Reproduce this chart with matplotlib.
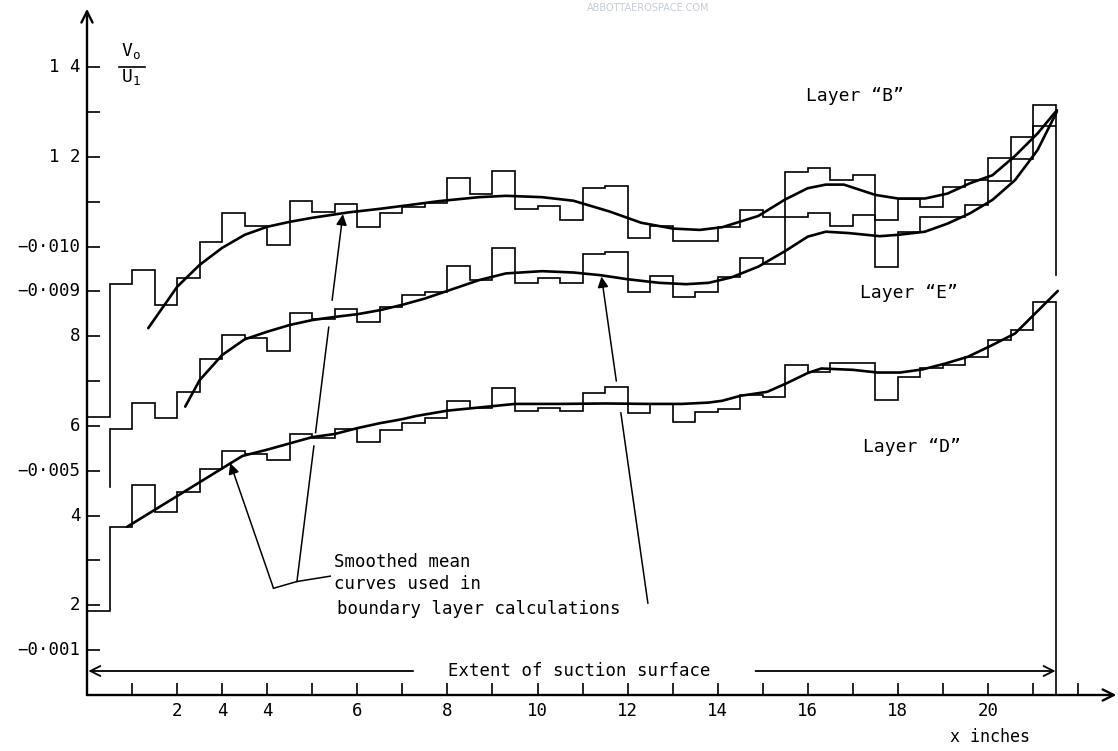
import numpy as np
import matplotlib
matplotlib.use("Agg")
import matplotlib.pyplot as plt

plt.rcParams['font.family'] = ['DejaVu Sans Mono', 'DejaVu Sans']

# step edges every half inch
B_EDGES = np.arange(0.0, 21.51, 0.5)
E_EDGES = np.arange(0.5, 21.51, 0.5)
D_EDGES = np.arange(0.0, 21.51, 0.5)

# measured (stepped) values
b_vals = [6.20, 9.16, 9.48, 8.70, 9.29, 10.09, 10.75, 10.46, 10.03, 11.02, 10.76,
          10.94, 10.44, 10.74, 10.89, 10.98, 11.52, 11.17, 11.69, 10.83, 10.91, 10.59,
          11.31, 11.36, 10.20, 10.46, 10.13, 10.13, 10.43, 10.81, 10.66, 11.67, 11.74,
          11.48, 11.59, 10.60, 11.05, 10.87, 11.32, 11.48, 11.98, 12.45, 13.15]
e_vals = [5.93, 6.52, 6.17, 6.75, 7.49, 8.03, 7.95, 7.67, 8.51, 8.38, 8.60, 8.31,
          8.64, 8.92, 8.99, 9.57, 9.25, 9.96, 9.19, 9.29, 9.18, 9.83, 9.88, 8.99,
          9.34, 8.88, 8.99, 9.33, 9.75, 9.62, 10.66, 10.74, 10.46, 10.70, 9.55, 10.33,
          10.66, 10.66, 10.93, 11.45, 11.96, 12.69]
d_vals = [1.87, 3.75, 4.68, 4.07, 4.52, 5.03, 5.44, 5.37, 5.24, 5.83, 5.74, 5.92,
          5.65, 5.91, 6.07, 6.17, 6.56, 6.39, 6.84, 6.34, 6.41, 6.34, 6.74, 6.86,
          6.28, 6.49, 6.09, 6.30, 6.38, 6.69, 6.64, 7.35, 7.21, 7.41, 7.41, 6.58,
          7.08, 7.30, 7.36, 7.54, 7.92, 8.14, 8.77]

# smoothed mean curves
b_curve_x = [1.36, 2.0, 2.5, 3.0, 3.5, 4.0, 4.5, 5.0, 5.8, 6.5, 7.2, 7.8, 8.7, 9.3,
             10.1, 10.8, 11.6, 12.3, 13.0, 13.6, 14.1, 14.9, 15.5, 16.0, 16.4, 16.8,
             17.5, 18.0, 18.6, 19.1, 19.6, 20.1, 20.6, 21.1, 21.53]
b_curve_y = [8.18, 9.10, 9.59, 9.97, 10.26, 10.44, 10.55, 10.64, 10.76, 10.84, 10.93,
             11.01, 11.10, 11.13, 11.10, 11.02, 10.78, 10.53, 10.40, 10.37, 10.43,
             10.68, 11.05, 11.30, 11.38, 11.38, 11.15, 11.07, 11.07, 11.18, 11.41,
             11.59, 12.02, 12.52, 13.04]
e_curve_x = [2.18, 2.5, 3.0, 3.5, 4.0, 4.5, 5.0, 5.5, 6.0, 6.5, 7.0, 7.5, 8.0, 8.7,
             9.3, 10.1, 10.8, 11.4, 12.0, 12.7, 13.3, 13.8, 14.3, 14.9, 15.5, 16.0,
             16.4, 16.9, 17.6, 18.0, 18.6, 19.1, 19.6, 20.1, 20.6, 21.1, 21.53]
e_curve_y = [6.43, 7.02, 7.58, 7.93, 8.10, 8.25, 8.36, 8.43, 8.49, 8.58, 8.70, 8.84,
             9.01, 9.25, 9.40, 9.45, 9.42, 9.36, 9.27, 9.19, 9.16, 9.19, 9.31, 9.55,
             9.90, 10.22, 10.33, 10.30, 10.23, 10.26, 10.33, 10.51, 10.74, 11.04,
             11.48, 12.15, 13.01]
d_curve_x = [0.89, 3.45, 4.0, 4.5, 5.0, 5.5, 6.0, 6.5, 7.0, 7.3, 8.0, 9.0, 9.5, 10.5,
             11.5, 12.5, 13.2, 13.8, 14.1, 14.5, 15.1, 15.55, 16.0, 16.3, 17.0, 17.55,
             18.05, 18.55, 19.05, 19.55, 20.05, 20.6, 21.05, 21.55]
d_curve_y = [3.75, 5.33, 5.47, 5.61, 5.75, 5.82, 5.95, 6.06, 6.15, 6.22, 6.34, 6.44,
             6.49, 6.49, 6.50, 6.49, 6.49, 6.52, 6.56, 6.67, 6.76, 6.96, 7.18, 7.28,
             7.25, 7.19, 7.19, 7.26, 7.39, 7.54, 7.78, 8.06, 8.51, 9.01]

x_ticks = list(range(1, 23))
x_label_pos = [2, 3, 4, 6, 8, 10, 12, 14, 16, 18, 20]
x_label_txt = ["2", "4", "4", "6", "8", "10", "12", "14", "16", "18", "20"]
y_ticks = list(range(1, 15))
y_label_pos = [1, 2, 4, 5, 6, 8, 9, 10, 12, 14]
y_label_txt = ["\u22120\u00b7001", "2", "4", "\u22120\u00b7005", "6", "8",
               "\u22120\u00b7009", "\u22120\u00b7010", "1 2", "1 4"]

W, H = 1118, 751
fig = plt.figure(figsize=(W / 100, H / 100), dpi=100)
ax = fig.add_axes([87 / W, 56 / H, 1031 / W, 695 / H])
ax.set_xlim(0, 1031 / 45.05)
ax.set_ylim(0, 695 / 44.85)
for s in ax.spines.values():
    s.set_visible(False)

STEP_LW = 1.2
CURVE_LW = 1.9

ax.stairs(b_vals, B_EDGES, baseline=None, color='black', lw=STEP_LW)
ax.stairs(e_vals, E_EDGES, baseline=None, color='black', lw=STEP_LW)
ax.stairs(d_vals, D_EDGES, baseline=None, color='black', lw=STEP_LW)
# loose vertical ends
ax.plot([0.5, 0.5], [4.64, e_vals[0]], color='black', lw=STEP_LW)
ax.plot([21.5, 21.5], [b_vals[-1], 9.36], color='black', lw=STEP_LW)
ax.plot([21.5, 21.5], [d_vals[-1], 0], color='black', lw=STEP_LW)

ax.plot(b_curve_x, b_curve_y, color='black', lw=CURVE_LW, solid_capstyle='round')
ax.plot(e_curve_x, e_curve_y, color='black', lw=CURVE_LW, solid_capstyle='round')
ax.plot(d_curve_x, d_curve_y, color='black', lw=CURVE_LW, solid_capstyle='round')

# axes with arrow heads
arrow_kw = dict(arrowstyle='->', lw=1.7, color='black', shrinkA=0, shrinkB=0,
                mutation_scale=20)
ax.annotate('', xy=(0, 15.3), xytext=(0, 0), arrowprops=arrow_kw,
            annotation_clip=False)
ax.annotate('', xy=(22.85, 0), xytext=(0, 0), arrowprops=arrow_kw,
            annotation_clip=False)

ax.set_xticks(x_ticks)
ax.set_xticklabels([])
ax.set_yticks(y_ticks)
ax.set_yticklabels([])
ax.tick_params(direction='in', length=9, width=1.2, color='black')
for xp, t in zip(x_label_pos, x_label_txt):
    ax.text(xp, -0.36, t, ha='center', va='center', fontsize=12.5)
for yp, t in zip(y_label_pos, y_label_txt):
    ax.text(-0.14, yp, t, ha='right', va='center', fontsize=12.5)

# y axis quantity
ax.text(0.98, 14.37, '$\\mathregular{V_o}$', ha='center', va='center', fontsize=13)
ax.plot([0.7, 1.28], [14.0, 14.0], color='black', lw=1.2, clip_on=False)
ax.text(0.98, 13.77, '$\\mathregular{U_1}$', ha='center', va='center', fontsize=13)

ax.text(20.05, -0.94, 'x inches', ha='center', va='center', fontsize=12)

# layer names
ax.text(15.95, 13.35, 'Layer \u201cB\u201d', ha='left', va='center', fontsize=13)
ax.text(17.15, 8.96, 'Layer \u201cE\u201d', ha='left', va='center', fontsize=13)
ax.text(17.22, 5.53, 'Layer \u201cD\u201d', ha='left', va='center', fontsize=13)

# extent of suction surface
ext_kw = dict(arrowstyle='->', lw=1.3, color='black', shrinkA=0, shrinkB=0,
              mutation_scale=18)
ax.annotate('', xy=(0.03, 0.535), xytext=(7.24, 0.535), arrowprops=ext_kw)
ax.annotate('', xy=(21.5, 0.535), xytext=(14.84, 0.535), arrowprops=ext_kw)
ax.text(10.92, 0.535, 'Extent of suction surface', ha='center', va='center',
        fontsize=12.5)

# note with leader arrows
ax.text(5.48, 2.97, 'Smoothed mean', ha='left', va='center', fontsize=12.5)
ax.text(5.48, 2.47, 'curves used in', ha='left', va='center', fontsize=12.5)
ax.text(5.55, 1.92, 'boundary layer calculations', ha='left', va='center',
        fontsize=12.5)
ax.plot([4.14, 4.66, 5.40], [2.38, 2.53, 2.65], color='black', lw=1.1)

head_kw = dict(arrowstyle='-|>', lw=1.1, color='black', shrinkA=0, shrinkB=0,
               mutation_scale=16)


def leader(tail, head, gaps=()):
    # straight pointer line, broken where it crosses other curves
    (x0, y0), (x1, y1) = tail, head
    cuts = [0.0]
    for g0, g1 in gaps:
        cuts += [(g0 - y0) / (y1 - y0), (g1 - y0) / (y1 - y0)]
    cuts.append(1.0)
    pos = lambda t: (x0 + t * (x1 - x0), y0 + t * (y1 - y0))
    pairs = list(zip(cuts[0::2], cuts[1::2]))
    for a, b in pairs[:-1]:
        pa, pb = pos(a), pos(b)
        ax.plot([pa[0], pb[0]], [pa[1], pb[1]], color='black', lw=1.1)
    a, b = pairs[-1]
    ax.annotate('', xy=pos(b), xytext=pos(a), arrowprops=head_kw)


leader((4.14, 2.38), (3.18, 5.17))
leader((4.66, 2.53), (5.68, 10.72), gaps=[(5.55, 5.85), (8.2, 8.8)])
leader((12.45, 2.05), (11.42, 9.33), gaps=[(6.29, 7.0)])

# scan watermark
fig.text(648 / W, 1 - 8 / H, 'ABBOTTAEROSPACE.COM', ha='center', va='center',
         fontsize=7, color='#c5ccd4', family='DejaVu Sans')

fig.savefig('out.png', dpi=100)
